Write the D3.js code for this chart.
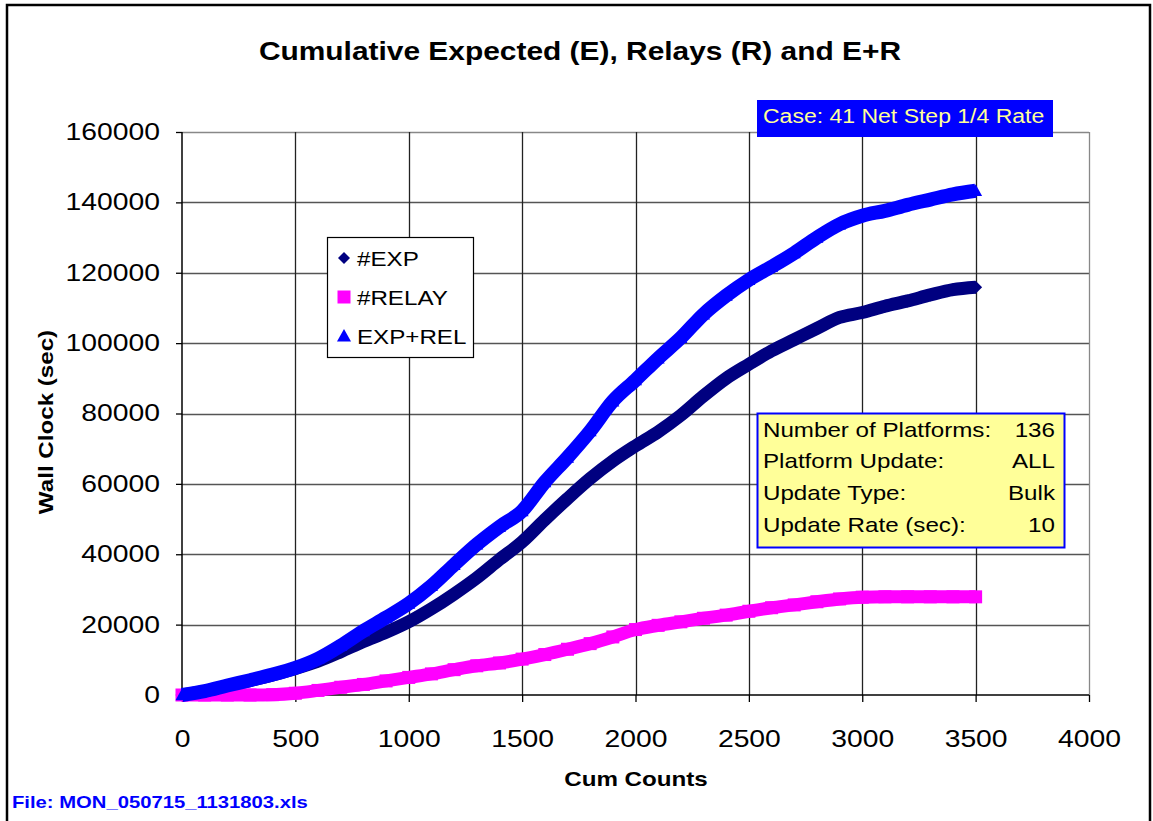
<!DOCTYPE html>
<html>
<head>
<meta charset="utf-8">
<script src="https://cdn.jsdelivr.net/npm/d3@7"></script>
<style>
  html, body { margin: 0; padding: 0; background: #fff; }
  svg { display: block; }
  text { font-family: "Liberation Sans", Arial, Helvetica, sans-serif; }
</style>
</head>
<body>
<svg id="chart" width="1153" height="821"></svg>
<script>
// ---- data ----
const counts = [0,100,200,300,400,500,600,700,800,900,1000,1100,1200,1300,1400,1500,1600,1700,1800,1900,
                2000,2100,2200,2300,2400,2500,2600,2700,2800,2900,3000,3100,3200,3300,3400,3500];
const expValues = [0,1000,2600,4100,5700,7500,9600,12300,15200,17800,20800,24500,28700,33300,38500,43500,49800,55800,61500,66500,
                   70800,74800,79500,85000,90000,94000,97800,101000,104200,107300,108700,110500,112000,113700,115200,115900];
const relayValues = [0,0,0,0,100,500,1300,2200,3000,4000,5000,6000,7200,8300,9100,10200,11500,13000,14600,16500,
                     18600,19800,20800,21800,22700,23800,24800,25600,26500,27300,27800,27900,27900,27900,27900,27900];
const expRelValues = [0,1100,2700,4200,5800,7700,10300,14000,18200,22000,26000,31000,37000,42800,47800,52300,60500,67500,75000,83500,
                      89500,95700,101500,108200,113500,118000,121700,125600,130000,133800,136200,137600,139300,140800,142300,143300];
const seriesNames = ["#EXP", "#RELAY", "EXP+REL"];
const xTicks = [0,500,1000,1500,2000,2500,3000,3500,4000];
const yTicks = [0,20000,40000,60000,80000,100000,120000,140000,160000];
const titleText = "Cumulative Expected (E), Relays (R) and E+R";
const xTitle = "Cum Counts";
const yTitle = "Wall Clock (sec)";
const caseText = "Case: 41 Net Step 1/4 Rate";
const infoLabels = ["Number of Platforms:", "Platform Update:", "Update Type:", "Update Rate (sec):"];
const infoValues = ["136", "ALL", "Bulk", "10"];
const fileText = "File: MON_050715_1131803.xls";

// ---- layout ----
const svg = d3.select("#chart");
const STRETCH = 1.15;
const plot = {left: 182, right: 1089, top: 132, bottom: 695};
const x = d3.scaleLinear().domain([0, 4000]).range([plot.left, plot.right]);
const y = d3.scaleLinear().domain([0, 160000]).range([plot.bottom, plot.top]);

// outer border
svg.append("rect").attr("x", 7).attr("y", 5).attr("width", 1143).attr("height", 840)
  .attr("fill", "#fff").attr("stroke", "#000").attr("stroke-width", 2.5);

// gridlines
const grid = svg.append("g");
grid.selectAll("line.h").data(yTicks.filter(d => d > 0)).join("line")
  .attr("x1", plot.left).attr("x2", plot.right)
  .attr("y1", d => Math.round(y(d)) + 0.5).attr("y2", d => Math.round(y(d)) + 0.5)
  .attr("stroke", d => d === 160000 ? "#888" : "#555").attr("stroke-width", 1.3);
grid.selectAll("line.v").data(xTicks.filter(d => d > 0)).join("line")
  .attr("y1", plot.top).attr("y2", plot.bottom)
  .attr("x1", d => Math.round(x(d)) + 0.5).attr("x2", d => Math.round(x(d)) + 0.5)
  .attr("stroke", d => d === 4000 ? "#888" : "#222").attr("stroke-width", 1.3);

// axes
const yAxis = svg.append("g").attr("transform", `translate(${plot.left},0)`)
  .call(d3.axisLeft(y).tickValues(yTicks).tickSize(6).tickPadding(16).tickFormat(d => String(d)));
const xAxis = svg.append("g").attr("transform", `translate(0,${plot.bottom})`)
  .call(d3.axisBottom(x).tickValues(xTicks).tickSize(7).tickPadding(29).tickFormat(d => String(d)));
[yAxis, xAxis].forEach(a => {
  a.select(".domain").attr("stroke", "#000").attr("stroke-width", 1.5);
  a.selectAll(".tick line").attr("stroke", "#000").attr("stroke-width", 1.3);
  a.selectAll(".tick text").attr("font-size", 23).attr("fill", "#000")
    .attr("font-family", '"Liberation Sans", Arial, sans-serif').classed("st", true).attr("data-s", 1.23);
});
xAxis.select(".domain").attr("d", `M${plot.left},0H${plot.right}`);
yAxis.select(".domain").attr("d", `M0,${plot.bottom}V${plot.top}`);

// marker shapes
const diamond = s => `M0,${-s}L${s},0L0,${s}L${-s},0Z`;
const square = s => `M${-s},${-s}H${s}V${s}H${-s}Z`;
const triangle = s => `M0,${-s}L${s},${s * 0.8}H${-s}Z`;

// series
const series = [
  {name: seriesNames[0], values: expValues, color: "#000080", shape: diamond, lw: 13, ms: 6.5},
  {name: seriesNames[1], values: relayValues, color: "#FF00FF", shape: square, lw: 13, ms: 6.5},
  {name: seriesNames[2], values: expRelValues, color: "#0000FF", shape: triangle, lw: 14, ms: 6.5}
];
const line = d3.line().x((d, i) => x(counts[i])).y(d => y(d)).curve(d3.curveMonotoneX);
series.forEach(s => {
  svg.append("path").attr("d", line(s.values)).attr("fill", "none")
    .attr("stroke", s.color).attr("stroke-width", s.lw).attr("stroke-linejoin", "round");
  svg.append("g").selectAll("path").data(s.values).join("path")
    .attr("transform", (d, i) => `translate(${x(counts[i])},${y(d)})`)
    .attr("d", s.shape(s.ms)).attr("fill", s.color);
});

// title
svg.append("text").attr("x", 580).attr("y", 60).attr("text-anchor", "middle")
  .attr("font-size", 26).attr("font-weight", "bold").text(titleText).classed("st", true);
// axis titles
svg.append("text").attr("x", 636).attr("y", 786).attr("text-anchor", "middle")
  .attr("font-size", 21).attr("font-weight", "bold").text(xTitle).classed("st", true);
svg.append("text").attr("transform", "translate(53,422) rotate(-90)").attr("text-anchor", "middle")
  .attr("font-size", 21).attr("font-weight", "bold").text(yTitle).classed("st", true);

// case label
svg.append("rect").attr("x", 757).attr("y", 100).attr("width", 296).attr("height", 37).attr("fill", "#0000FF");
svg.append("text").attr("x", 763).attr("y", 123).attr("font-size", 20).attr("fill", "#FFFF99")
  .text(caseText).classed("st", true);

// legend
const lg = svg.append("g");
lg.append("rect").attr("x", 327.5).attr("y", 237.5).attr("width", 146).attr("height", 120)
  .attr("fill", "#fff").attr("stroke", "#000").attr("stroke-width", 1.2);
const legendRows = [258, 297, 336];
const legendSizes = [6, 6.5, 7];
series.forEach((s, i) => {
  lg.append("path").attr("transform", `translate(344,${legendRows[i]})`)
    .attr("d", s.shape(legendSizes[i])).attr("fill", s.color);
  lg.append("text").attr("x", 357).attr("y", legendRows[i] + 7.5).attr("font-size", 21)
    .text(s.name).classed("st", true);
});

// info box
const ib = svg.append("g");
ib.append("rect").attr("x", 757.5).attr("y", 413.5).attr("width", 307).attr("height", 134)
  .attr("fill", "#FFFF99").attr("stroke", "#0000FF").attr("stroke-width", 2);
const infoRows = [437, 468, 500, 532];
infoLabels.forEach((t, i) => {
  ib.append("text").attr("x", 763).attr("y", infoRows[i]).attr("font-size", 21).text(t).classed("st", true);
  ib.append("text").attr("x", 1055).attr("y", infoRows[i]).attr("font-size", 21)
    .attr("text-anchor", "end").text(infoValues[i]).classed("st", true);
});

// file label
svg.append("text").attr("x", 12).attr("y", 808).attr("font-size", 17).attr("font-weight", "bold")
  .attr("fill", "#0000FF").text(fileText).classed("st", true).attr("data-s", 1.19);

// horizontal stretch of text to match the reference's wide glyphs
svg.selectAll("text.st").each(function() {
  const f = +(this.getAttribute("data-s") || STRETCH);
  const w = this.getComputedTextLength();
  d3.select(this).attr("textLength", w * f).attr("lengthAdjust", "spacingAndGlyphs");
});
</script>
</body>
</html>
